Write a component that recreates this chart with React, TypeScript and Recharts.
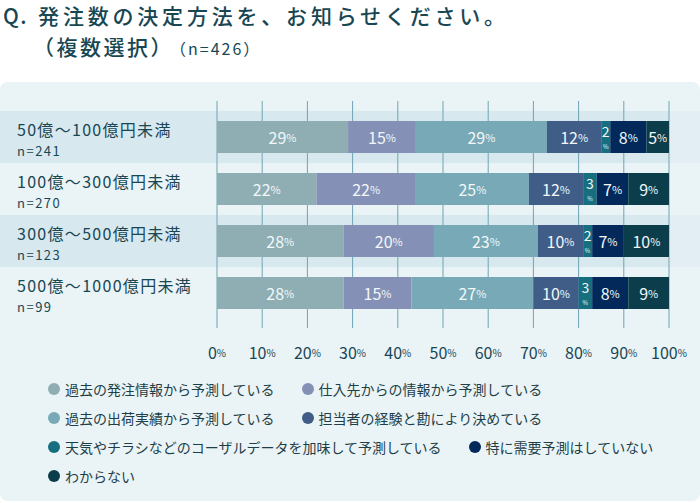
import React from 'react';
import { BarChart, Bar, XAxis, YAxis, CartesianGrid, ReferenceArea, LabelList } from 'recharts';

const categories = ['50億〜100億円未満', '100億〜300億円未満', '300億〜500億円未満', '500億〜1000億円未満'];
const sampleSizes = ['n=241', 'n=270', 'n=123', 'n=99'];

const seriesNames = [
  '過去の発注情報から予測している',
  '仕入先からの情報から予測している',
  '過去の出荷実績から予測している',
  '担当者の経験と勘により決めている',
  '天気やチラシなどのコーザルデータを加味して予測している',
  '特に需要予測はしていない',
  'わからない',
];
const seriesColors = ['#8FAEB4', '#8590B6', '#78A9B6', '#3F5D86', '#176E7F', '#03295B', '#0B3D4A'];

const pastOrders = [29, 22, 28, 28];
const supplierInfo = [15, 22, 20, 15];
const pastShipments = [29, 25, 23, 27];
const staffExperience = [12, 12, 10, 10];
const causalData = [2, 3, 2, 3];
const noForecast = [8, 7, 7, 8];
const unknown = [5, 9, 10, 9];

const xTicks = [0, 10, 20, 30, 40, 50, 60, 70, 80, 90, 100];
const bandedRows = [categories[0], categories[2]];

const seriesValues = [pastOrders, supplierInfo, pastShipments, staffExperience, causalData, noForecast, unknown];

const chartData = categories.map((category, i) => {
  const row: Record<string, string | number> = { category };
  seriesValues.forEach((vals, s) => {
    row[`s${s}`] = vals[i];
  });
  return row;
});

const FONT = '"Noto Sans CJK JP", "Noto Sans", sans-serif';
const DARK = '#184753';
const CHART_W = 700;

const BandShape = (props: any) => {
  const { x, y, width, height } = props;
  return (
    <g>
      <rect x={0} y={y} width={x + width} height={height} fill="#D8E8EF" />
      <rect x={x + width} y={y} width={CHART_W - x - width} height={height} fill="#E2EEF3" />
    </g>
  );
};

const CategoryTick = ({ y, payload }: any) => {
  const idx = categories.indexOf(payload.value);
  return (
    <g fontFamily={FONT}>
      <text x={17} y={y - 8} fontSize={16} letterSpacing={1.3} fill={DARK} dominantBaseline="central">
        {payload.value}
      </text>
      <text x={17} y={y + 13} fontSize={13} letterSpacing={1.5} fill={DARK} dominantBaseline="central">
        {sampleSizes[idx]}
      </text>
    </g>
  );
};

const PercentTick = ({ x, y, payload }: any) => (
  <text x={x} y={y + 16} textAnchor="middle" dominantBaseline="central" fontFamily={FONT} fill={DARK}>
    <tspan fontSize={16}>{payload.value}</tspan>
    <tspan fontSize={10}>%</tspan>
  </text>
);

const SegmentLabel = (props: any) => {
  const { x, y, width, height, value } = props;
  const cx = x + width / 2;
  const cy = y + height / 2;
  if (value < 5) {
    return (
      <g fontFamily={FONT} fill="#F2F7F8" textAnchor="middle">
        <text x={cx} y={cy - 6} fontSize={14} dominantBaseline="central">{value}</text>
        <text x={cx} y={cy + 9} fontSize={6} dominantBaseline="central">%</text>
      </g>
    );
  }
  return (
    <text x={cx} y={cy} textAnchor="middle" dominantBaseline="central" fontFamily={FONT} fill="#F2F7F8">
      <tspan fontSize={16}>{value}</tspan>
      <tspan fontSize={11}>%</tspan>
    </text>
  );
};

const App: React.FC = () => {
  return (
    <div style={{ position: 'absolute', left: 0, top: 0, width: 700, height: 503, background: '#fff', fontFamily: FONT, overflow: 'hidden' }}>
      <div style={{ position: 'absolute', left: 3, top: 0, color: DARK, fontSize: 21, fontWeight: 500, lineHeight: '31px', whiteSpace: 'nowrap' }}>
        <div>
          <span style={{ letterSpacing: 1.5 }}>Q.</span>
          <span style={{ marginLeft: 10, letterSpacing: 3.8 }}>発注数の決定方法を、お知らせください。</span>
        </div>
        <div style={{ paddingLeft: 30, letterSpacing: 2.5 }}>
          （複数選択）
          <span style={{ fontSize: 16, fontWeight: 400, letterSpacing: 2, marginLeft: 4 }}>（n=426）</span>
        </div>
      </div>

      <div style={{ position: 'absolute', left: 0, top: 82, width: 700, height: 419, background: '#EAF3F6', borderRadius: 8 }} />

      <div style={{ position: 'absolute', left: 0, top: 82 }}>
        <BarChart
          width={CHART_W}
          height={286}
          data={chartData}
          layout="vertical"
          margin={{ top: 19, right: 31, left: 0, bottom: 0 }}
          barSize={32}
        >
          {bandedRows.map(cat => (
            <ReferenceArea key={cat} y1={cat} y2={cat} ifOverflow="visible" shape={BandShape} zIndex={-200} />
          ))}
          <CartesianGrid horizontal={false} stroke="#6EA4B3" strokeWidth={1} />
          <XAxis
            type="number"
            domain={[0, 100]}
            ticks={xTicks}
            axisLine={false}
            tickLine={false}
            height={40}
            tick={<PercentTick />}
            interval={0}
          />
          <YAxis
            type="category"
            dataKey="category"
            width={217}
            axisLine={false}
            tickLine={false}
            padding={{ top: 10, bottom: 9 }}
            tick={<CategoryTick />}
            interval={0}
          />
          {seriesNames.map((name, s) => (
            <Bar key={name} dataKey={`s${s}`} name={name} stackId="a" fill={seriesColors[s]} isAnimationActive={false}>
              <LabelList dataKey={`s${s}`} content={<SegmentLabel />} />
            </Bar>
          ))}
        </BarChart>
      </div>

      <div style={{ position: 'absolute', left: 48, top: 374, width: 640, display: 'flex', flexWrap: 'wrap' }}>
        {seriesNames.map((name, s) => (
          <div key={name} style={{ display: 'flex', alignItems: 'center', height: 29, marginRight: 27, color: '#1E3F47', fontSize: 14 }}>
            <span style={{ width: 12, height: 12, borderRadius: 6, background: seriesColors[s], marginRight: 5, display: 'inline-block' }} />
            {name}
          </div>
        ))}
      </div>
    </div>
  );
};

export default App;
